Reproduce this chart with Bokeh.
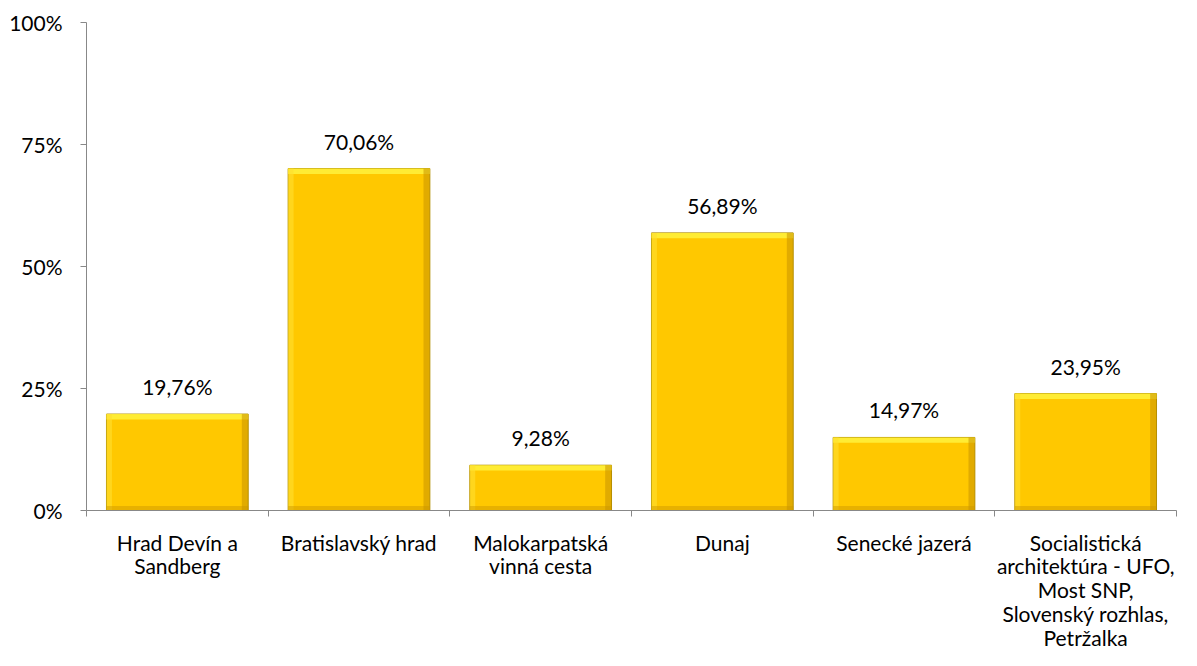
from bokeh.plotting import figure
from bokeh.models import FixedTicker, Range1d, ColumnDataSource
from bokeh.embed import file_html
from bokeh.resources import INLINE
from bokeh.core.properties import value

categories = ["Hrad Devín a\nSandberg", "Bratislavský hrad", "Malokarpatská\nvinná cesta",
              "Dunaj", "Senecké jazerá",
              "Socialistická\narchitektúra - UFO,\nMost SNP,\nSlovenský rozhlas,\nPetržalka"]
values = [19.76, 70.06, 9.28, 56.89, 14.97, 23.95]
value_labels = ["19,76%", "70,06%", "9,28%", "56,89%", "14,97%", "23,95%"]
y_ticks = [0, 25, 50, 75, 100]
y_tick_labels = ["0%", "25%", "50%", "75%", "100%"]

FONT = "Lato"
n = len(categories)
xc = [i + 0.5 for i in range(n)]
half = 0.39

src = ColumnDataSource(dict(
    left=[x - half for x in xc], right=[x + half for x in xc],
    top=values, bottom=[0] * n, x=xc, lab=value_labels,
    top_hi=[v - 1.1 for v in values],
    rs_left=[x + half - 0.035 for x in xc],
    ls_right=[x - half + 0.03 for x in xc],
    bot_top=[0.9] * n,
))

p = figure(width=1197, height=666, output_backend="svg", toolbar_location=None,
           x_range=Range1d(0, n), y_range=Range1d(0, 100),
           min_border_left=86, min_border_right=21, min_border_top=22, min_border_bottom=156)
p.outline_line_color = None
p.grid.grid_line_color = None
p.background_fill_color = "white"
p.border_fill_color = "white"

p.quad(left="left", right="right", top="top", bottom="bottom", source=src,
       fill_color="#FFC800", line_color="#B08E00", line_width=1)
# bevel shading
p.quad(left="left", right="right", top="top", bottom="top_hi", source=src,
       fill_color="#FFEF3A", fill_alpha=0.9, line_color=None)
p.quad(left="rs_left", right="right", top="top", bottom="bottom", source=src,
       fill_color="#C99400", fill_alpha=0.55, line_color=None)
p.quad(left="left", right="ls_right", top="top", bottom="bottom", source=src,
       fill_color="#FFE030", fill_alpha=0.6, line_color=None)
p.quad(left="left", right="right", top="bot_top", bottom="bottom", source=src,
       fill_color="#C99400", fill_alpha=0.45, line_color=None)

p.text(x="x", y="top", text="lab", source=src, text_align="center", text_baseline="bottom",
       y_offset=-15, text_font=value(FONT), text_font_size="21px", text_color="#000000")

# y axis
p.yaxis.ticker = FixedTicker(ticks=y_ticks)
p.yaxis.major_label_overrides = {t: l for t, l in zip(y_ticks, y_tick_labels)}
p.yaxis.axis_line_color = "#888888"
p.yaxis.major_tick_line_color = "#888888"
p.yaxis.major_tick_out = 6
p.yaxis.major_tick_in = 0
p.yaxis.minor_tick_line_color = None
p.yaxis.major_label_text_font = FONT
p.yaxis.major_label_text_font_size = "21px"
p.yaxis.major_label_text_color = "#000000"
p.yaxis.major_label_standoff = 18

# x axis
p.xaxis.ticker = FixedTicker(ticks=xc, minor_ticks=list(range(n + 1)))
p.xaxis.major_label_overrides = {x: c for x, c in zip(xc, categories)}
p.xaxis.axis_line_color = "#888888"
p.xaxis.major_tick_line_color = None
p.xaxis.minor_tick_line_color = "#888888"
p.xaxis.minor_tick_out = 6
p.xaxis.minor_tick_in = 0
p.xaxis.major_label_text_font = FONT
p.xaxis.major_label_text_font_size = "21px"
p.xaxis.major_label_text_color = "#000000"
p.xaxis.major_label_standoff = 13
p.xaxis.major_label_text_line_height = 0.95

open("out.html", "w").write(file_html(p, INLINE))
